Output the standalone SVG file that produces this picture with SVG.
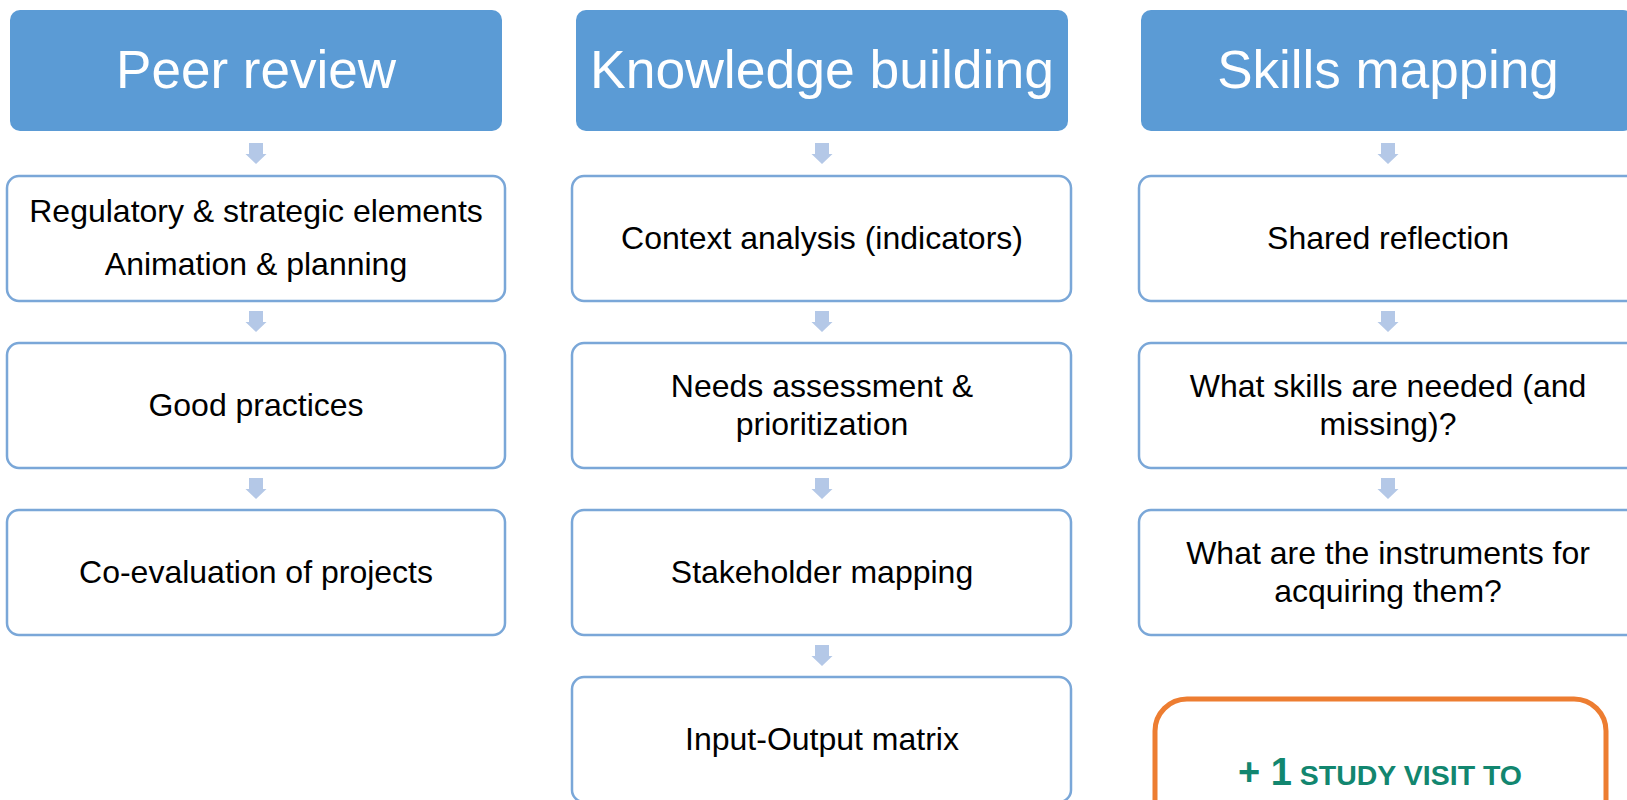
<svg xmlns="http://www.w3.org/2000/svg" width="1627" height="800" viewBox="0 0 1627 800">
  <defs>
    <style>
      .hdr { fill: #5b9bd5; }
      .hdr-t { font-family: "Liberation Sans", Arial, sans-serif; font-size: 53px; fill: #ffffff; text-anchor: middle; }
      .box { fill: #ffffff; stroke: #7aa7d8; stroke-width: 2.5; }
      .box-t { font-family: "Liberation Sans", Arial, sans-serif; font-size: 32px; fill: #000000; text-anchor: middle; }
      .arr { fill: #b4c8e7; }
      .visit { fill: #ffffff; stroke: #ed7d31; stroke-width: 5; }
      .visit-t { font-family: "Liberation Sans", Arial, sans-serif; font-weight: bold; fill: #12866f; text-anchor: middle; }
    </style>
    <path id="dn" d="M-7,0 H7 V11 H10.5 L0,21 L-10.5,11 H-7 Z"/>
  </defs>

  <g id="connectors">
    <use href="#dn" class="arr" x="256" y="143"/>
    <use href="#dn" class="arr" x="256" y="311"/>
    <use href="#dn" class="arr" x="256" y="478"/>
    <use href="#dn" class="arr" x="822" y="143"/>
    <use href="#dn" class="arr" x="822" y="311"/>
    <use href="#dn" class="arr" x="822" y="478"/>
    <use href="#dn" class="arr" x="822" y="645"/>
    <use href="#dn" class="arr" x="1388" y="143"/>
    <use href="#dn" class="arr" x="1388" y="311"/>
    <use href="#dn" class="arr" x="1388" y="478"/>
  </g>

  <!-- Column 1 -->
  <g id="peer-review">
    <rect class="hdr" x="10" y="10" width="492" height="121" rx="10"/>
    <text class="hdr-t" x="256" y="88">Peer review</text>
  </g>
  <g id="regulatory">
    <rect class="box" x="7" y="176" width="498" height="125" rx="12"/>
    <text class="box-t" x="256" y="222">Regulatory &amp; strategic elements</text>
    <text class="box-t" x="256" y="275">Animation &amp; planning</text>
  </g>
  <g id="good-practices">
    <rect class="box" x="7" y="343" width="498" height="125" rx="12"/>
    <text class="box-t" x="256" y="416">Good practices</text>
  </g>
  <g id="co-evaluation">
    <rect class="box" x="7" y="510" width="498" height="125" rx="12"/>
    <text class="box-t" x="256" y="583">Co-evaluation of projects</text>
  </g>

  <!-- Column 2 -->
  <g id="knowledge-building">
    <rect class="hdr" x="576" y="10" width="492" height="121" rx="10"/>
    <text class="hdr-t" x="822" y="88" style="font-size:53.5px">Knowledge building</text>
  </g>
  <g id="context-analysis">
    <rect class="box" x="572" y="176" width="499" height="125" rx="12"/>
    <text class="box-t" x="822" y="249">Context analysis (indicators)</text>
  </g>
  <g id="needs-assessment">
    <rect class="box" x="572" y="343" width="499" height="125" rx="12"/>
    <text class="box-t" x="822" y="397">Needs assessment &amp;</text>
    <text class="box-t" x="822" y="435">prioritization</text>
  </g>
  <g id="stakeholder-mapping">
    <rect class="box" x="572" y="510" width="499" height="125" rx="12"/>
    <text class="box-t" x="822" y="583">Stakeholder mapping</text>
  </g>
  <g id="input-output">
    <rect class="box" x="572" y="677" width="499" height="125" rx="12"/>
    <text class="box-t" x="822" y="750">Input-Output matrix</text>
  </g>

  <!-- Column 3 -->
  <g id="skills-mapping">
    <rect class="hdr" x="1141" y="10" width="492" height="121" rx="10"/>
    <text class="hdr-t" x="1388" y="88">Skills mapping</text>
  </g>
  <g id="shared-reflection">
    <rect class="box" x="1139" y="176" width="499" height="125" rx="12"/>
    <text class="box-t" x="1388" y="249">Shared reflection</text>
  </g>
  <g id="skills-needed">
    <rect class="box" x="1139" y="343" width="499" height="125" rx="12"/>
    <text class="box-t" x="1388" y="397">What skills are needed (and</text>
    <text class="box-t" x="1388" y="435">missing)?</text>
  </g>
  <g id="instruments">
    <rect class="box" x="1139" y="510" width="499" height="125" rx="12"/>
    <text class="box-t" x="1388" y="564">What are the instruments for</text>
    <text class="box-t" x="1388" y="602">acquiring them?</text>
  </g>

  <g id="study-visit">
    <rect class="visit" x="1155" y="699" width="451" height="160" rx="32"/>
    <text class="visit-t" x="1380" y="785"><tspan font-size="38">+ 1</tspan><tspan font-size="28.5"> STUDY VISIT TO</tspan></text>
  </g>
</svg>
